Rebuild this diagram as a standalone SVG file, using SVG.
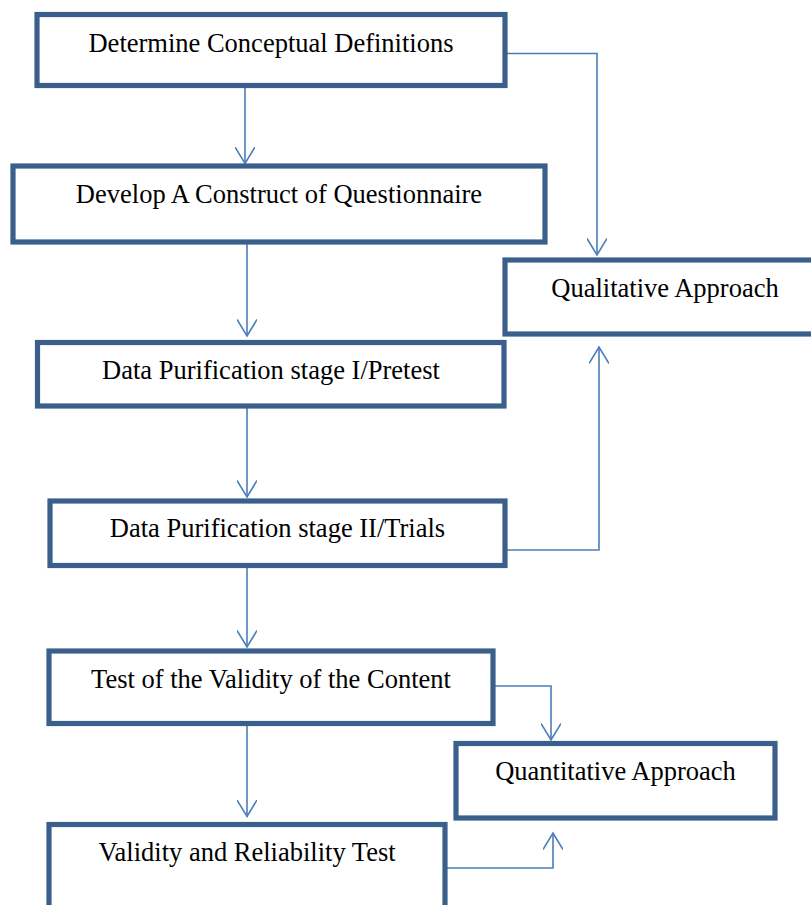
<svg xmlns="http://www.w3.org/2000/svg" width="811" height="905" viewBox="0 0 811 905">
<defs>
<marker id="arr" markerUnits="userSpaceOnUse" markerWidth="24" markerHeight="20" refX="17" refY="10" orient="auto" viewBox="0 0 24 20">
<path d="M0.5,0 L17,10 L0.5,20" fill="none" stroke="#4A7EBB" stroke-width="1.6"/>
</marker>
<style>
.box{fill:#FFFFFF;stroke:#3A5F8B;stroke-width:5.2}
.lbl{font-family:"Liberation Serif","Times New Roman",serif;font-size:26.5px;fill:#000000;text-anchor:middle}
.con{fill:none;stroke:#4A7EBB;stroke-width:1.6;marker-end:url(#arr)}
</style>
</defs>
<rect width="811" height="905" fill="#FFFFFF"/>
<g id="connectors">
<path class="con" d="M245,88 V163.5"/>
<path class="con" d="M505,53.5 H597 V255"/>
<path class="con" d="M247,244 V336"/>
<path class="con" d="M247,408 V497"/>
<path class="con" d="M505,550 H599 V347"/>
<path class="con" d="M247,568 V647"/>
<path class="con" d="M493,686 H551 V740"/>
<path class="con" d="M247,726 V816.5"/>
<path class="con" d="M445,868 H553 V833"/>
</g>
<g id="node-conceptual">
<rect class="box" x="37" y="14.5" width="468" height="71"/>
<text class="lbl" x="271" y="52">Determine Conceptual Definitions</text>
</g>
<g id="node-construct">
<rect class="box" x="13" y="166" width="532" height="76"/>
<text class="lbl" x="279" y="203">Develop A Construct of Questionnaire</text>
</g>
<g id="node-qualitative">
<rect class="box" x="505" y="260" width="320" height="74"/>
<text class="lbl" x="665" y="297">Qualitative Approach</text>
</g>
<g id="node-pretest">
<rect class="box" x="37.5" y="342.5" width="466.5" height="63.5"/>
<text class="lbl" x="271" y="379">Data Purification stage I/Pretest</text>
</g>
<g id="node-trials">
<rect class="box" x="50" y="501" width="455" height="64.5"/>
<text class="lbl" x="277.5" y="537">Data Purification stage II/Trials</text>
</g>
<g id="node-content">
<rect class="box" x="49" y="651" width="444" height="72.5"/>
<text class="lbl" x="271" y="688">Test of the Validity of the Content</text>
</g>
<g id="node-quantitative">
<rect class="box" x="456" y="743.5" width="319" height="74.5"/>
<text class="lbl" x="615.5" y="780">Quantitative Approach</text>
</g>
<g id="node-reliability">
<rect class="box" x="49" y="824.5" width="396" height="110"/>
<text class="lbl" x="247" y="861">Validity and Reliability Test</text>
</g>
</svg>
